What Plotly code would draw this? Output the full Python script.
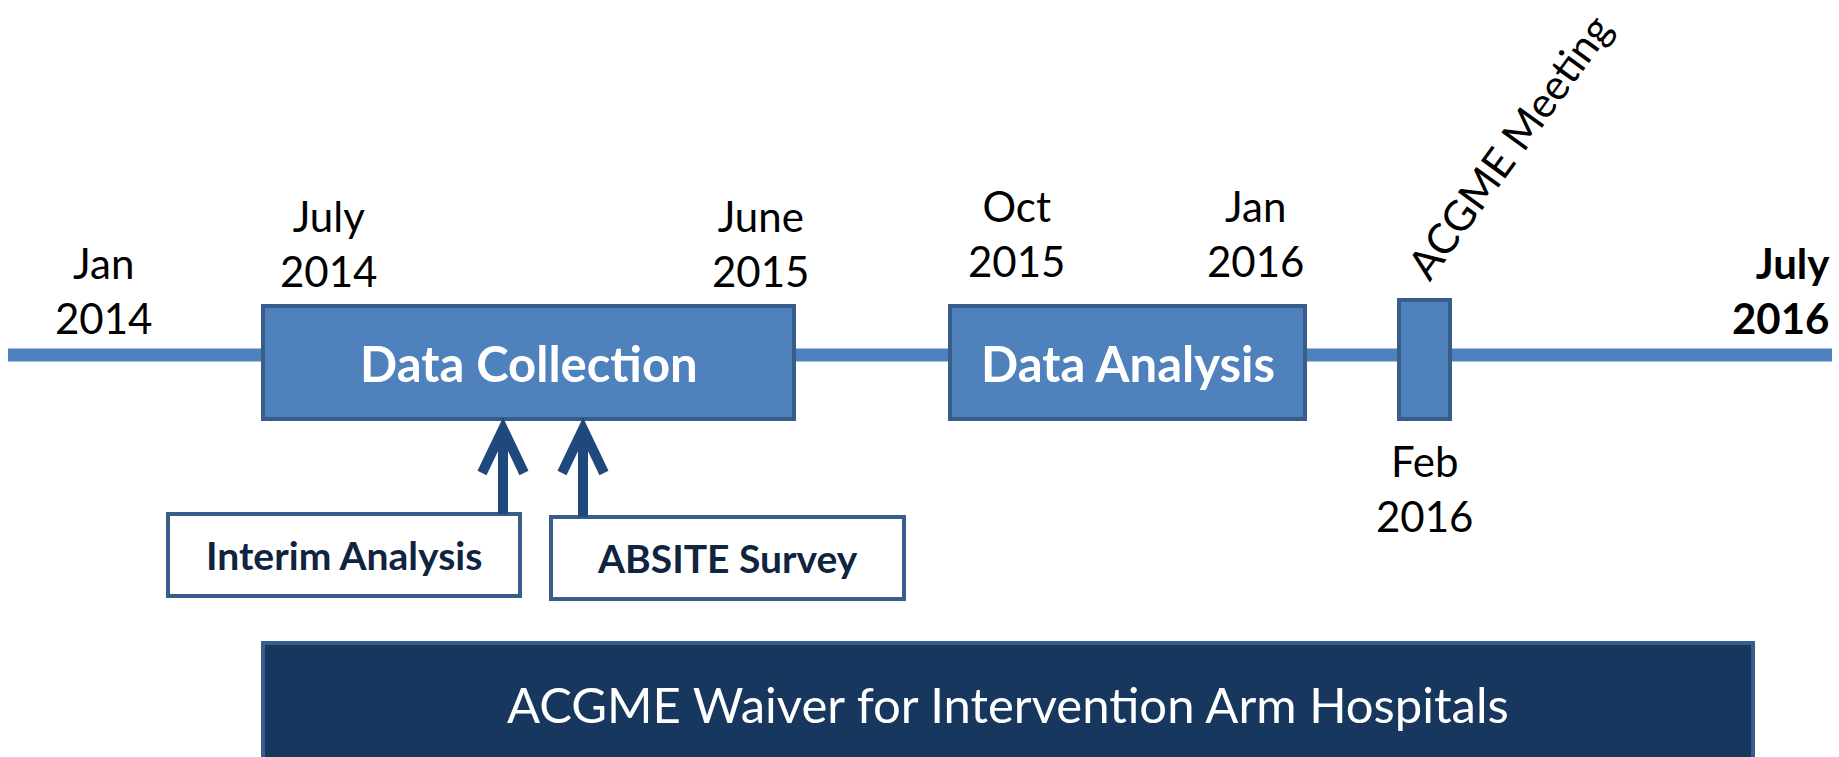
import plotly.graph_objects as go

# ---- data (timeline diagram, positions in timeline units) ----
date_labels = ["Jan<br>2014", "July<br>2014", "June<br>2015", "Oct<br>2015", "Jan<br>2016", "Feb<br>2016"]
date_x = [103, 328, 760, 1016, 1255, 1424]
date_y = [290, 243, 243, 233, 233, 488]

end_label = "July<br>2016"
end_x = 1832
end_y = 290

phase_names = ["Data Collection", "Data Analysis", ""]
phase_start = [263, 950, 1399]
phase_end = [794, 1305, 1450]
phase_top = [306, 306, 300]
phase_bottom = [419, 419, 419]

meeting_label = "ACGME Meeting"
meeting_x = 1509
meeting_y = 146

event_names = ["Interim Analysis", "ABSITE Survey"]
event_box_x0 = [168, 551]
event_box_x1 = [520, 904]
event_box_y0 = [514, 517]
event_box_y1 = [596, 599]
event_arrow_x = [503, 583]

waiver_label = "ACGME Waiver for Intervention Arm Hospitals"
waiver_x0, waiver_x1 = 263, 1753
waiver_y0, waiver_y1 = 643, 775

timeline_y = 355
timeline_x0, timeline_x1 = 8, 1832

# ---- styles ----
BLUE = "#4F81BD"
BORDER = "#385D8A"
ARROW = "#1F497D"
NAVY = "#17375E"
TEXT_DARK = "#0F243E"
FONT = "Lato"

fig = go.Figure()
fig.add_trace(go.Scatter(x=[0, 1839], y=[0, 757], mode="markers",
                         marker=dict(opacity=0), hoverinfo="skip", showlegend=False))

shapes = []
annotations = []

# timeline line
shapes.append(dict(type="line", x0=timeline_x0, x1=timeline_x1, y0=timeline_y, y1=timeline_y,
                   line=dict(color=BLUE, width=13), layer="below"))

# phase boxes
for name, x0, x1, y0, y1 in zip(phase_names, phase_start, phase_end, phase_top, phase_bottom):
    shapes.append(dict(type="rect", x0=x0, x1=x1, y0=y0, y1=y1,
                       fillcolor=BLUE, line=dict(color=BORDER, width=4)))
    if name:
        annotations.append(dict(x=(x0 + x1) / 2, y=(y0 + y1) / 2, text="<b>" + name + "</b>",
                                showarrow=False, font=dict(family=FONT, size=49, color="white"),
                                xanchor="center", yanchor="middle"))

# date labels
for t, x, y in zip(date_labels, date_x, date_y):
    annotations.append(dict(x=x, y=y, text=t, showarrow=False,
                            font=dict(family=FONT, size=42, color="black"),
                            xanchor="center", yanchor="middle", align="center"))

annotations.append(dict(x=end_x, y=end_y, text="<b>" + end_label + "</b>", showarrow=False,
                        font=dict(family=FONT, size=42, color="black"),
                        xanchor="right", yanchor="middle", align="right"))

annotations.append(dict(x=meeting_x, y=meeting_y, text=meeting_label, showarrow=False,
                        textangle=-54, font=dict(family=FONT, size=42, color="black"),
                        xanchor="center", yanchor="middle"))

# event boxes and arrows
for name, x0, x1, y0, y1, ax in zip(event_names, event_box_x0, event_box_x1,
                                     event_box_y0, event_box_y1, event_arrow_x):
    shapes.append(dict(type="rect", x0=x0, x1=x1, y0=y0, y1=y1,
                       fillcolor="white", line=dict(color=BORDER, width=4)))
    annotations.append(dict(x=(x0 + x1) / 2, y=(y0 + y1) / 2, text="<b>" + name + "</b>",
                            showarrow=False, font=dict(family=FONT, size=39, color=TEXT_DARK),
                            xanchor="center", yanchor="middle"))
    tip = phase_bottom[0] + 10
    shapes.append(dict(type="line", x0=ax, x1=ax, y0=y0, y1=tip + 4,
                       line=dict(color=ARROW, width=10)))
    shapes.append(dict(type="path",
                       path=f"M {ax-21},{tip+44} L {ax},{tip} L {ax+21},{tip+44}",
                       line=dict(color=ARROW, width=10)))

# waiver box
shapes.append(dict(type="rect", x0=waiver_x0, x1=waiver_x1, y0=waiver_y0, y1=waiver_y1,
                   fillcolor=NAVY, line=dict(color=BORDER, width=4)))
annotations.append(dict(x=(waiver_x0 + waiver_x1) / 2, y=704, text=waiver_label,
                        showarrow=False, font=dict(family=FONT, size=49, color="white"),
                        xanchor="center", yanchor="middle"))

fig.update_layout(
    width=1839, height=757,
    margin=dict(l=0, r=0, t=0, b=0),
    paper_bgcolor="white", plot_bgcolor="white",
    xaxis=dict(range=[0, 1839], visible=False, fixedrange=True),
    yaxis=dict(range=[757, 0], visible=False, fixedrange=True),
    shapes=shapes, annotations=annotations,
    showlegend=False,
)

fig.write_html("out.html", config={"displayModeBar": False},
               post_script="document.body.style.margin='0';document.body.style.overflow='hidden';")
